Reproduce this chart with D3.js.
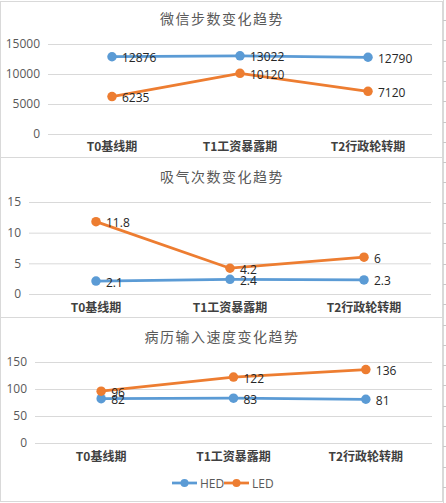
<!DOCTYPE html>
<html lang="zh">
<head>
<meta charset="UTF-8">
<title>趋势图</title>
<script src="https://cdn.jsdelivr.net/npm/d3@7"></script>
<style>
*{margin:0; padding:0;}
body{background:#fff;}
text{font-family:"Open Sans","Noto Sans CJK SC",sans-serif;}
.title{font-size:14px; fill:#595959; letter-spacing:1.5px; font-family:"Noto Sans CJK SC",sans-serif;}
.lbl{font-size:12px; fill:#262626;}
</style>
</head>
<body>
<script>
var categories = ["T0基线期", "T1工资暴露期", "T2行政轮转期"];
var seriesNames = ["HED", "LED"];
var colors = ["#5b9bd5", "#ed7d31"];

var stepsHED = [12876, 13022, 12790];
var stepsLED = [6235, 10120, 7120];
var breathHED = [2.1, 2.4, 2.3];
var breathLED = [11.8, 4.2, 6];
var recordHED = [82, 83, 81];
var recordLED = [96, 122, 136];

var stepTicks = [0, 5000, 10000, 15000];
var breathTicks = [0, 5, 10, 15];
var recordTicks = [0, 50, 100, 150];

var titles = ["微信步数变化趋势", "吸气次数变化趋势", "病历输入速度变化趋势"];

var width = 446, height = 503;
var svg = d3.select("body").append("svg")
	.attr("width", width)
	.attr("height", height);

// spreadsheet row marks peeking out on the right
svg.append("line").attr("x1", 443.5).attr("x2", 443.5).attr("y1", 0).attr("y2", height)
	.attr("stroke", "#d9d9d9");
for (var k = 0; k < 25; k++) {
	var yy = Math.round(20 + k * 20.3) + 0.5;
	svg.append("line").attr("x1", 443).attr("x2", 446).attr("y1", yy).attr("y2", yy)
		.attr("stroke", "#c8c8c8");
}

var panels = [
	{top: 1, bottom: 157, left: 48, right: 432, yTop: 44, yZero: 134, titleY: 18, catY: 147,
		title: titles[0], ticks: stepTicks, data: [stepsHED, stepsLED]},
	{top: 157, bottom: 317, left: 29, right: 431, yTop: 202, yZero: 294, titleY: 176, catY: 308,
		title: titles[1], ticks: breathTicks, data: [breathHED, breathLED]},
	{top: 317, bottom: 501, left: 35, right: 432, yTop: 362, yZero: 443, titleY: 336, catY: 457,
		title: titles[2], ticks: recordTicks, data: [recordHED, recordLED]}
];

panels.forEach(function(p, pi) {
	var g = svg.append("g");
	g.append("rect")
		.attr("x", 0.5).attr("y", p.top + 0.5)
		.attr("width", 442).attr("height", p.bottom - p.top)
		.attr("fill", "#fff").attr("stroke", "#d9d9d9");

	g.append("text").attr("class", "title")
		.attr("x", 222).attr("y", p.titleY)
		.attr("text-anchor", "middle").attr("dominant-baseline", "central")
		.text(p.title);

	var x = d3.scaleBand().domain(categories).range([p.left, p.right]);
	var y = d3.scaleLinear().domain([0, d3.max(p.ticks)]).range([p.yZero, p.yTop]);

	// gridlines + tick labels
	var yAxis = d3.axisLeft(y).tickValues(p.ticks).tickFormat(d3.format("d"))
		.tickSize(-(p.right - p.left)).tickPadding(8);
	var ag = g.append("g").attr("transform", "translate(" + p.left + ",0)").call(yAxis);
	ag.select(".domain").remove();
	ag.selectAll(".tick line").attr("stroke", "#d9d9d9");
	ag.selectAll(".tick text").attr("fill", null)
		.style("font-size", "12px").style("fill", "#595959")
		.style("font-family", "'Open Sans',sans-serif");

	var xAxis = d3.axisBottom(x).tickSize(0).tickPadding(0);
	var xg = g.append("g").attr("transform", "translate(0," + p.catY + ")").call(xAxis);
	xg.select(".domain").remove();
	xg.selectAll(".tick text")
		.attr("dy", "0.35em")
		.attr("fill", null)
		.style("font-size", "12px").style("fill", "#404040").style("font-weight", "bold")
		.style("font-family", "'Noto Sans CJK SC',sans-serif");

	var line = d3.line()
		.x(function(d, i) { return x(categories[i]) + x.bandwidth() / 2; })
		.y(function(d) { return y(d); });

	p.data.forEach(function(vals, si) {
		g.append("path").datum(vals)
			.attr("d", line)
			.attr("fill", "none")
			.attr("stroke", colors[si])
			.attr("stroke-width", 2.75)
			.attr("stroke-linejoin", "round");
		g.selectAll(".m" + si).data(vals).enter().append("circle")
			.attr("cx", function(d, i) { return x(categories[i]) + x.bandwidth() / 2; })
			.attr("cy", function(d) { return y(d); })
			.attr("r", 4.75)
			.attr("fill", colors[si]);
	});

	p.data.forEach(function(vals, si) {
		g.selectAll(".l" + si).data(vals).enter().append("text")
			.attr("class", "lbl")
			.attr("x", function(d, i) { return x(categories[i]) + x.bandwidth() / 2 + 10; })
			.attr("y", function(d) { return y(d) + 1; })
			.attr("dominant-baseline", "central")
			.text(function(d) { return d; });
	});
});

// legend
var legend = svg.append("g").attr("transform", "translate(172,483)");
seriesNames.forEach(function(name, i) {
	var lx = i * 52;
	legend.append("line").attr("x1", lx).attr("x2", lx + 25).attr("y1", 0).attr("y2", 0)
		.attr("stroke", colors[i]).attr("stroke-width", 2.75);
	legend.append("circle").attr("cx", lx + 12.5).attr("cy", 0).attr("r", 4).attr("fill", colors[i]);
	legend.append("text").attr("x", lx + 28).attr("y", 0)
		.attr("dominant-baseline", "central")
		.style("font-size", "12px").style("fill", "#595959")
		.text(name);
});
</script>
</body>
</html>
